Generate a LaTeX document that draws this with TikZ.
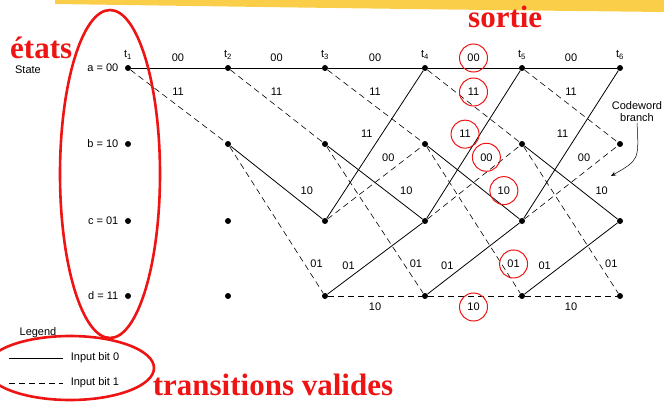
\documentclass[tikz,border=0pt]{standalone}
\usepackage{fontspec}
\setmainfont{Liberation Sans}
\newfontfamily\titlefont{Liberation Serif}
\usetikzlibrary{arrows.meta}

\definecolor{marker}{RGB}{238,20,20}
\definecolor{band}{RGB}{250,206,72}

\tikzset{
  dot/.style={circle, fill, inner sep=0pt, minimum size=6pt},
  bit0/.style={line width=0.8pt},
  bit1/.style={line width=0.6pt, dash pattern=on 6pt off 4pt},
  lbl/.style={font=\fontsize{11}{12}\selectfont, inner sep=0.5pt},
  redmark/.style={draw=marker, line width=1pt},
  bigmark/.style={draw=marker, line width=2.6pt},
  redtitle/.style={text=marker, inner sep=0pt, font=\titlefont\bfseries\fontsize{31}{31}\selectfont}
}

\begin{document}
\begin{tikzpicture}[x=1pt, y=-1pt]
  \useasboundingbox (0,0) rectangle (664,404);

  % brush band at the top
  \fill[band] (55,0) -- (664,0) -- (664,12) .. controls (400,9) .. (55,4) -- cycle;

  % trellis nodes
  \foreach \i/\x in {1/128,2/228,3/325,4/425,5/522,6/620} {
    \node[dot] (a\i) at (\x,68) {};
    \node[dot] (b\i) at (\x,144) {};
    \node[dot] (c\i) at (\x,221) {};
    \node[dot] (d\i) at (\x,296) {};
    \node[lbl] (t\i) at (\x,55) {t\textsubscript{\i}};
  }

  % state names
  \node[lbl] (state) at (28,70) {State};
  \foreach \s/\v/\y in {a/00/68,b/10/144,c/01/221,d/11/296}
    \node[lbl, anchor=east] (n\s) at (119,\y) {\s\ = \v};

  % branches leaving a
  \foreach \i in {1,...,5} {
    \pgfmathtruncatemacro\j{\i+1}
    \draw[bit0] (a\i) -- node[lbl, yshift=10pt] (aa\i) {00} (a\j);
    \draw[bit1] (a\i) -- node[lbl, yshift=14pt] (ab\i) {11} (b\j);
  }
  % branches leaving b
  \foreach \i in {2,...,5} {
    \pgfmathtruncatemacro\j{\i+1}
    \draw[bit0] (b\i) -- node[lbl, pos=.83, yshift=16pt] (bc\i) {10} (c\j);
    \draw[bit1] (b\i) -- node[lbl, pos=.8, xshift=12pt] (bd\i) {01} (d\j);
  }
  % branches leaving c and d
  \foreach \i in {3,...,5} {
    \pgfmathtruncatemacro\j{\i+1}
    \draw[bit0] (c\i) -- node[lbl, pos=.57, xshift=-15pt] (ca\i) {11} (a\j);
    \draw[bit1] (c\i) -- node[lbl, pos=.64, yshift=15pt] (cb\i) {00} (b\j);
    \draw[bit0] (d\i) -- node[lbl, pos=.4, xshift=-17pt] (dc\i) {01} (c\j);
    \draw[bit1] (d\i) -- node[lbl, yshift=-11pt] (dd\i) {10} (d\j);
  }

  % codeword branch note
  \node[lbl, align=center] (cw) at (637,112) {Codeword\\branch};
  \coordinate (cwtip) at (611,176);
  \draw[line width=0.5pt, -{Stealth[length=5pt, width=4pt]}] (cw.south) .. controls (639,160) .. (cwtip);

  % legend
  \node[lbl] (leg) at (38,333) {Legend};
  \coordinate (l0a) at (9,358);
  \coordinate (l0b) at (63,358);
  \coordinate (l1a) at (9,383);
  \coordinate (l1b) at (63,383);
  \draw[bit0] (l0a) -- (l0b) node[lbl, right=7pt] (in0) {Input bit 0};
  \draw[bit1] (l1a) -- (l1b) node[lbl, right=7pt] (in1) {Input bit 1};

  % red annotations
  \foreach \n in {aa4,ab4,ca4,cb4,bc4,bd4,dd4}
    \draw[redmark] (\n) circle (14pt);
  \draw[bigmark] (110,174) ellipse [x radius=50pt, y radius=164pt];
  \draw[bigmark] (70,368) ellipse [x radius=84pt, y radius=32pt];
  \node[redtitle, anchor=base west] (etats) at (10,59) {états};
  \node[redtitle, anchor=base west] (sortie) at (468,28) {sortie};
  \node[redtitle, anchor=base] (valides) at (273,395) {transitions valides};
\end{tikzpicture}
\end{document}
